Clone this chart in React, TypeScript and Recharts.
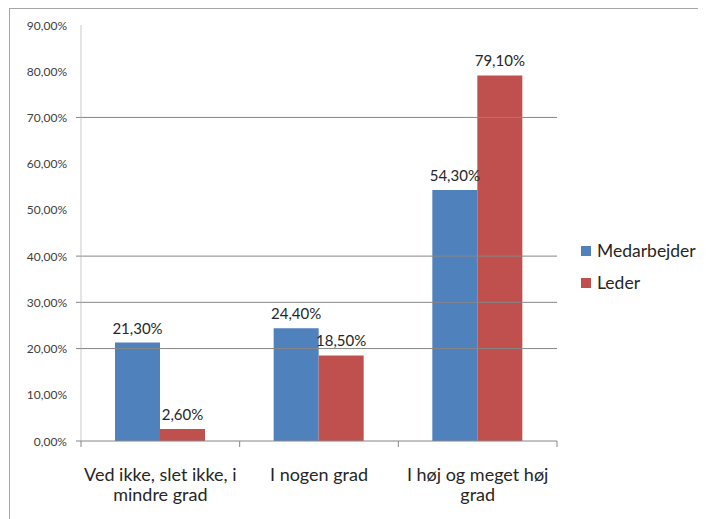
import React from "react";
import { BarChart, Bar, XAxis, YAxis, ReferenceLine, LabelList } from "recharts";

const categories = ["Ved ikke, slet ikke, i\nmindre grad", "I nogen grad", "I høj og meget høj\ngrad"];
const medarbejder = [0.213, 0.244, 0.543];
const leder = [0.026, 0.185, 0.791];
const yTicks = [0, 0.1, 0.2, 0.3, 0.4, 0.5, 0.6, 0.7, 0.8, 0.9];
// gridlines that are visible in the reference
const gridValues = [0.2, 0.3, 0.4, 0.7];
const seriesNames = ["Medarbejder", "Leder"];
const seriesColors = ["#4F81BD", "#C0504D"];

const data = categories.map((name, i) => ({ name, medarbejder: medarbejder[i], leder: leder[i] }));

const fmt = (v: number) => (v * 100).toFixed(2).replace(".", ",") + "%";

const FONT = "Lato, 'Open Sans', sans-serif";

const YTick = (props: any) => {
  const { x, y, payload } = props;
  const v = payload.value;
  const axisX = x + 14;
  const showMark = v === 0 || gridValues.some((g) => Math.abs(g - v) < 1e-9);
  return (
    <g>
      {showMark && <line x1={axisX - 5} x2={axisX} y1={y} y2={y} stroke="#868686" />}
      <text x={x} y={y} dy={4.5} textAnchor="end" fontSize={12} fill="#404040" fontFamily={FONT}>
        {fmt(v)}
      </text>
    </g>
  );
};

const XTick = (props: any) => {
  const { x, y, payload, index, visibleTicksCount } = props;
  const half = payload.offset || 0;
  const axisY = y - 6;
  const lines = String(payload.value).split("\n");
  return (
    <g>
      <line x1={x - half} x2={x - half} y1={axisY} y2={axisY + 6} stroke="#868686" />
      {index === visibleTicksCount - 1 && (
        <line x1={x + half} x2={x + half} y1={axisY} y2={axisY + 6} stroke="#868686" />
      )}
      {lines.map((l, i) => (
        <text key={i} x={x} y={axisY + 40 + i * 20} textAnchor="middle" fontSize={18} fill="#262626" fontFamily={FONT}>
          {l}
        </text>
      ))}
    </g>
  );
};

export default function App() {
  return (
    <div style={{ position: "relative", width: 698, height: 511, fontFamily: FONT }}>
      <div
        style={{
          position: "absolute",
          left: 1,
          top: 0,
          width: 700,
          height: 520,
          borderLeft: "1px solid #a6a6a6",
          borderTop: "1px solid #a6a6a6",
          pointerEvents: "none",
        }}
      />
      <BarChart
        width={698}
        height={511}
        data={data}
        margin={{ top: 17, right: 149, bottom: 18, left: 0 }}
        barCategoryGap={34}
        barGap={0}
      >
        {gridValues.map((g) => (
          <ReferenceLine key={g} y={g} stroke="#868686" strokeWidth={1} />
        ))}
        <XAxis
          dataKey="name"
          height={60}
          axisLine={{ stroke: "#868686" }}
          tickLine={false}
          tickSize={6}
          tickMargin={0}
          interval={0}
          tick={<XTick />}
        />
        <YAxis
          width={73}
          domain={[0, 0.9]}
          ticks={yTicks}
          interval={0}
          axisLine={{ stroke: "#c8c8c8" }}
          tickLine={false}
          tickSize={6}
          tickMargin={8}
          tick={<YTick />}
        />
        <Bar dataKey="medarbejder" fill={seriesColors[0]} isAnimationActive={false}>
          <LabelList dataKey="medarbejder" position="top" offset={9} formatter={(v: any) => fmt(Number(v))} fontSize={15} fill="#262626" fontFamily={FONT} />
        </Bar>
        <Bar dataKey="leder" fill={seriesColors[1]} isAnimationActive={false}>
          <LabelList dataKey="leder" position="top" offset={9} formatter={(v: any) => fmt(Number(v))} fontSize={15} fill="#262626" fontFamily={FONT} />
        </Bar>
      </BarChart>
      {seriesNames.map((n, i) => (
        <div
          key={n}
          style={{ position: "absolute", left: 573, top: 243 + i * 32 - 10, height: 20, display: "flex", alignItems: "center" }}
        >
          <div style={{ width: 10, height: 10, background: seriesColors[i], marginRight: 6 }} />
          <span style={{ fontSize: 17.5, color: "#262626", lineHeight: "20px" }}>{n}</span>
        </div>
      ))}
    </div>
  );
}
